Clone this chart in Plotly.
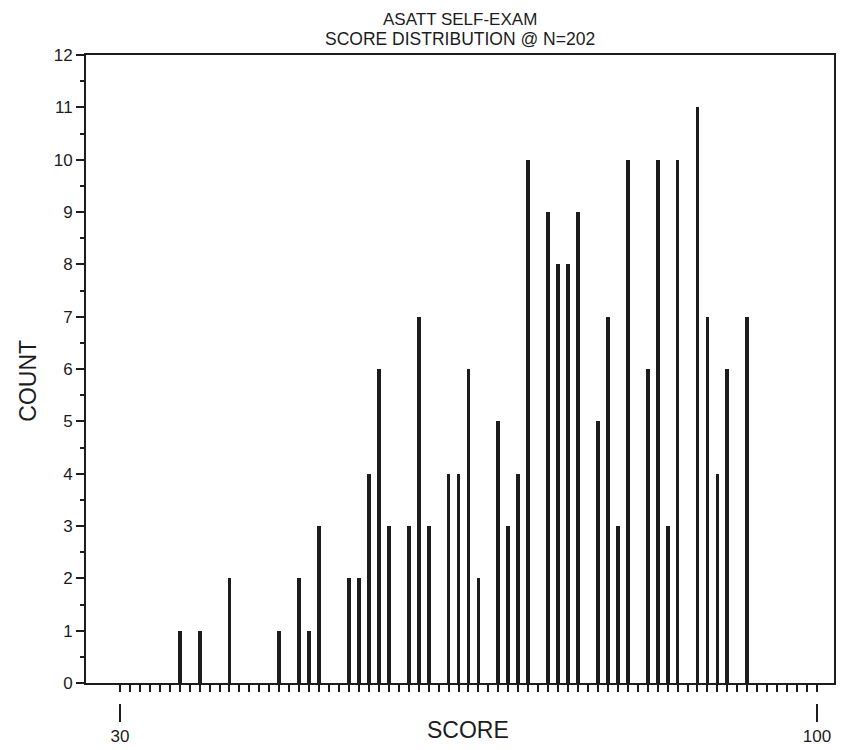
import plotly.graph_objects as go

scores = [36, 38, 41, 46, 48, 49, 50, 53, 54, 55, 56, 57, 59, 60, 61, 63, 64, 65, 66,
          68, 69, 70, 71, 73, 74, 75, 76, 78, 79, 80, 81, 83, 84, 85, 86, 88, 89, 90, 91, 93]
counts = [1, 1, 2, 1, 2, 1, 3, 2, 2, 4, 6, 3, 3, 7, 3, 4, 4, 6, 2,
          5, 3, 4, 10, 9, 8, 8, 9, 5, 7, 3, 10, 6, 10, 3, 10, 11, 7, 4, 6, 7]
y_ticks = list(range(0, 13))
x_minor_ticks = list(range(30, 101))
x_labels = [30, 100]
title_lines = ["ASATT SELF-EXAM", "SCORE DISTRIBUTION @ N=202"]

FONT = "Liberation Sans, Arial, sans-serif"
INK = "#1c1c1c"

# page body adds ~8px offset; figure sized to fit window
W, H = 842, 742
L, T, R, B = 78, 47, 16, 20
plot_h = H - T - B
dom0 = 1 - 628 / plot_h


def py(abs_y):
    """paper y for an absolute screen y (accounting for 8px body offset)"""
    return (H - B - (abs_y - 8)) / plot_h


fig = go.Figure()
fig.add_trace(go.Bar(x=scores, y=counts, width=0.38, marker=dict(color=INK, line=dict(width=0)),
                     showlegend=False))
fig.add_trace(go.Scatter(x=x_labels, y=[0, 0], xaxis="x2", yaxis="y", mode="markers",
                         marker=dict(opacity=0), showlegend=False, hoverinfo="skip"))

xr = [26.59, 101.71]
fig.update_layout(
    width=W, height=H,
    margin=dict(l=L, r=R, t=T, b=B, autoexpand=False),
    paper_bgcolor="white", plot_bgcolor="white",
    font=dict(family=FONT, color=INK),
    bargap=0,
    xaxis=dict(range=xr, tickvals=x_minor_ticks, showticklabels=False,
               ticks="outside", ticklen=7, tickwidth=2, tickcolor=INK,
               showline=True, linewidth=2, linecolor=INK, mirror=True,
               showgrid=False, zeroline=False, anchor="y", automargin=False),
    xaxis2=dict(range=xr, overlaying="x", anchor="free", position=py(703),
                side="bottom", automargin=False,
                tickvals=x_labels, ticktext=[str(v) for v in x_labels],
                ticks="outside", ticklen=18, tickwidth=2, tickcolor=INK,
                showline=False, showgrid=False, zeroline=False,
                tickfont=dict(size=17, family=FONT, color=INK)),
    yaxis=dict(range=[0, 12], domain=[dom0, 1], tickvals=y_ticks, automargin=False,
               ticks="outside", ticklen=8, tickwidth=2, tickcolor=INK,
               minor=dict(dtick=0.5, tick0=0, ticks="outside", ticklen=4, tickwidth=2, tickcolor=INK),
               showline=True, linewidth=2, linecolor=INK, mirror=True,
               showgrid=False, zeroline=False,
               tickfont=dict(size=17, family=FONT, color=INK)),
    annotations=[
        dict(text=title_lines[0], xref="paper", yref="paper", x=0.5, y=py(19),
             xanchor="center", yanchor="middle", showarrow=False, borderpad=0,
             font=dict(size=17, family=FONT, color=INK)),
        dict(text=title_lines[1], xref="paper", yref="paper", x=0.5, y=py(39),
             xanchor="center", yanchor="middle", showarrow=False, borderpad=0,
             font=dict(size=17.5, family=FONT, color=INK)),
        dict(text="COUNT", textangle=-90, xref="paper", yref="paper",
             x=-0.078, y=py(381), xanchor="center", yanchor="middle",
             showarrow=False, font=dict(size=23, family=FONT, color=INK)),
        dict(text="SCORE", xref="paper", yref="paper",
             x=(468 - 8 - L) / (W - L - R), y=py(730),
             xanchor="center", yanchor="middle", showarrow=False,
             font=dict(size=23, family=FONT, color=INK)),
    ],
)

fig.write_html("out.html")
